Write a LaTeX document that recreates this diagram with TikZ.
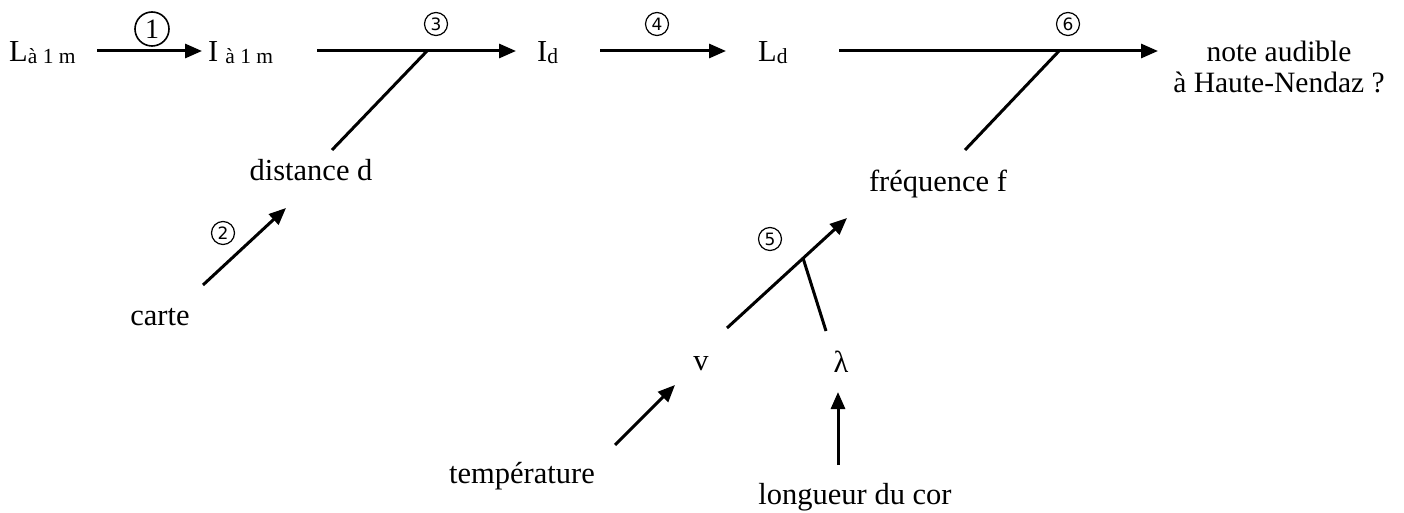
\documentclass[tikz,border=0pt]{standalone}
\usepackage{fontspec}
\setmainfont{Liberation Serif}
\newfontfamily\circfont{DejaVu Sans}
\usetikzlibrary{arrows.meta}
\newcommand{\subtxt}[1]{{\fontsize{21.5}{22}\selectfont\raisebox{-1.5pt}{#1}}}
\tikzset{
  lbl/.style={inner sep=0pt, anchor=base, font=\fontsize{30.5}{32}\selectfont},
  lblw/.style={inner sep=0pt, anchor=base west, font=\fontsize{30.5}{32}\selectfont},
  num/.style={circle, draw, line width=1.2pt, inner sep=0pt, minimum size=23pt, font=\circfont\fontsize{17}{17}\selectfont},
  bignum/.style={circle, draw, line width=1.6pt, inner sep=0pt, minimum size=34pt, font=\fontsize{28}{28}\selectfont},
  flow/.style={line width=3pt, -{Triangle[length=17pt,width=14pt]}},
  feed/.style={line width=3pt}
}
\begin{document}
\begin{tikzpicture}[x=1pt,y=-1pt]
\useasboundingbox (0,0) rectangle (1404,513);
% texts
\node[lblw] (L1) at (9,62) {L\subtxt{à 1 m}};
\node[lblw] (I1) at (208,62) {I\hspace{7pt}\subtxt{à 1 m}};
\node[lblw] (Id) at (537,62) {I\subtxt{d}};
\node[lblw] (Ld) at (758,62) {L\subtxt{d}};
\node[inner sep=0pt, anchor=north, align=center, font=\fontsize{29.5}{31}\selectfont] (note) at (1279,41) {note audible\\à Haute-Nendaz ?};
\node[lbl] (dist) at (311,181) {distance d};
\node[lbl] (carte) at (160,325) {carte};
\node[lbl] (freq) at (938,192) {fréquence f};
\node[lbl] (v) at (701,370) {v};
\node[lbl] (lam) at (841,372) {λ};
\node[lbl] (temp) at (522,483) {température};
\node[lbl] (longueur) at (855,504) {longueur du cor};
% numbers
\node[bignum] (n1) at (152,29) {1};
\node[num] (n2) at (223,233) {2};
\node[num] (n3) at (436,24) {3};
\node[num] (n4) at (657,24) {4};
\node[num] (n5) at (770,239) {5};
\node[num] (n6) at (1068,24) {6};
% connector ends
\coordinate (a1s) at (97,51);   \coordinate (a1e) at (202,51);
\coordinate (a3s) at (317,51);  \coordinate (a3e) at (516,51);
\coordinate (j3) at (427,51);   \coordinate (b3) at (332,150);
\coordinate (a4s) at (600,51);  \coordinate (a4e) at (726,51);
\coordinate (a6s) at (839,51);  \coordinate (a6e) at (1158,51);
\coordinate (j6) at (1059,51);  \coordinate (b6) at (965,150);
\coordinate (a2s) at (203,285); \coordinate (a2e) at (286,208);
\coordinate (a5s) at (727,328); \coordinate (a5e) at (847,218);
\coordinate (j5) at (803,258);  \coordinate (b5) at (826,331);
\coordinate (ats) at (615,445); \coordinate (ate) at (675,385);
\coordinate (als) at (838,465); \coordinate (ale) at (838,392);
% connectors
\draw[flow] (a1s) -- (a1e);
\draw[flow] (a3s) -- (a3e);
\draw[feed] (j3) -- (b3);
\draw[flow] (a4s) -- (a4e);
\draw[flow] (a6s) -- (a6e);
\draw[feed] (j6) -- (b6);
\draw[flow] (a2s) -- (a2e);
\draw[flow] (a5s) -- (a5e);
\draw[feed] (j5) -- (b5);
\draw[flow] (ats) -- (ate);
\draw[flow] (als) -- (ale);
\end{tikzpicture}
\end{document}
